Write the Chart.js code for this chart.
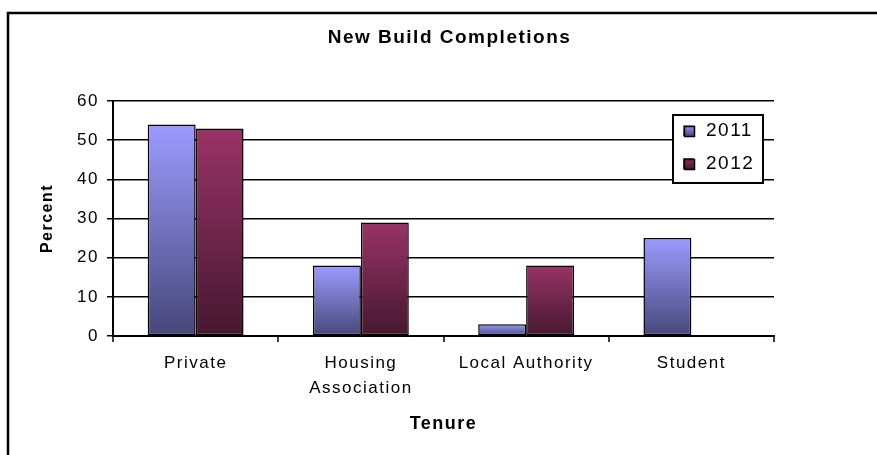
<!DOCTYPE html>
<html>
<head>
<meta charset="utf-8">
<script src="https://cdn.jsdelivr.net/npm/chart.js@4/dist/chart.umd.min.js"></script>
<style>
  html, body { margin: 0; padding: 0; background: #fff; }
  #wrap { width: 877px; height: 455px; position: relative; }
</style>
</head>
<body>
<div id="wrap"><canvas id="c" width="877" height="455"></canvas></div>
<script>
// ---- data ----
const chartTitle = 'New Build Completions';
const categories = ['Private', ['Housing', 'Association'], 'Local Authority', 'Student'];
const seriesNames = ['2011', '2012'];
const values2011 = [54, 18, 3, 25];
const values2012 = [53, 29, 18, 0];
const yTicks = [0, 10, 20, 30, 40, 50, 60];
const xTitle = 'Tenure';
const yTitle = 'Percent';

// ---- styling ----
const FONT = "'Liberation Sans', Arial, sans-serif";
const SPACING = '1.5px';
const colors2011 = ['#9b9bff', '#47477a'];
const colors2012 = ['#993366', '#461830'];

function barGradient(ctx, pair) {
  const chart = ctx.chart;
  const y = chart.scales && chart.scales.y;
  if (!y || ctx.type !== 'data' || ctx.raw == null) return pair[0];
  const y0 = y.getPixelForValue(0);
  const y1 = y.getPixelForValue(ctx.raw);
  if (!isFinite(y0) || !isFinite(y1) || Math.abs(y0 - y1) < 0.5) return pair[0];
  const g = chart.ctx.createLinearGradient(0, y1, 0, y0);
  g.addColorStop(0, pair[0]);
  g.addColorStop(1, pair[1]);
  return g;
}

const spacingPlugin = {
  id: 'spacing',
  beforeUpdate(c) { c.ctx.letterSpacing = SPACING; },
  beforeLayout(c) { c.ctx.letterSpacing = SPACING; },
  beforeDraw(c) { c.ctx.letterSpacing = SPACING; }
};

const framePlugin = {
  id: 'frame',
  afterDraw(c) {
    const ctx = c.ctx;
    ctx.save();
    ctx.strokeStyle = '#000';
    ctx.lineWidth = 2.5;
    ctx.strokeRect(8, 13, 1000, 600);
    ctx.restore();
  }
};

const boxLegend = {
  id: 'boxLegend',
  afterDraw(c) {
    const ctx = c.ctx;
    const bx = 673, by = 115, bw = 90, bh = 68;
    ctx.save();
    ctx.fillStyle = '#fff';
    ctx.fillRect(bx, by, bw, bh);
    ctx.strokeStyle = '#000';
    ctx.lineWidth = 2;
    ctx.strokeRect(bx, by, bw, bh);
    const pairs = [colors2011, colors2012];
    c.data.datasets.forEach((ds, i) => {
      const sy = 125 + i * 33;
      const g = ctx.createLinearGradient(0, sy, 0, sy + 11);
      g.addColorStop(0, pairs[i][0]);
      g.addColorStop(1, pairs[i][1]);
      ctx.fillStyle = g;
      ctx.fillRect(683, sy, 11, 11);
      ctx.lineWidth = 1.5;
      ctx.strokeStyle = '#000';
      ctx.strokeRect(684.5, sy + 1.5, 10, 10);
      ctx.fillStyle = '#000';
      ctx.font = '19px ' + FONT;
      ctx.letterSpacing = SPACING;
      ctx.textBaseline = 'middle';
      ctx.textAlign = 'left';
      ctx.fillText(ds.label, 706, sy + 6);
    });
    ctx.restore();
  }
};

new Chart(document.getElementById('c'), {
  type: 'bar',
  data: {
    labels: categories,
    datasets: [
      {
        label: seriesNames[0],
        data: values2011,
        backgroundColor: (ctx) => barGradient(ctx, colors2011),
        borderColor: '#000',
        borderWidth: 1.5,
        borderSkipped: false
      },
      {
        label: seriesNames[1],
        data: values2012,
        backgroundColor: (ctx) => barGradient(ctx, colors2012),
        borderColor: '#000',
        borderWidth: 1.5,
        borderSkipped: false
      }
    ]
  },
  options: {
    responsive: false,
    animation: false,
    devicePixelRatio: 1,
    layout: { padding: { left: 22, right: 0, top: 0, bottom: 0 } },
    datasets: { bar: { categoryPercentage: 0.58, barPercentage: 1.0 } },
    plugins: {
      legend: { display: false },
      tooltip: { enabled: false },
      title: {
        display: true,
        text: chartTitle,
        color: '#000',
        font: { family: FONT, size: 19, weight: 'bold', lineHeight: 1.2 },
        padding: { top: 26.1, bottom: 52.1 }
      }
    },
    scales: {
      x: {
        afterFit(s) { s.height = 119; },
        grid: {
          offset: true,
          drawOnChartArea: true,
          color: (ctx) => (ctx.index === categories.length ? '#000' : 'rgba(0,0,0,0)'),
          lineWidth: 2,
          tickColor: '#000',
          tickLength: 6,
          tickWidth: 1.5
        },
        border: { display: true, color: '#000', width: 2 },
        ticks: {
          color: '#000',
          padding: 8.5,
          maxRotation: 0,
          autoSkip: false,
          font: { family: FONT, size: 17, lineHeight: 1.47 }
        },
        title: {
          display: true,
          text: xTitle,
          color: '#000',
          font: { family: FONT, size: 18, weight: 'bold', lineHeight: 1.2 },
          padding: { top: 0, bottom: 20.2 }
        }
      },
      y: {
        min: 0,
        max: 60,
        afterFit(s) { s.width = 91; },
        afterBuildTicks(s) { s.ticks = yTicks.map(v => ({ value: v })); },
        grid: {
          color: '#000',
          lineWidth: 1.5,
          tickColor: '#000',
          tickLength: 6,
          tickWidth: 1.5
        },
        border: { display: true, color: '#000', width: 2 },
        ticks: {
          color: '#000',
          padding: 8,
          font: { family: FONT, size: 17 }
        },
        title: {
          display: true,
          text: yTitle,
          color: '#000',
          font: { family: FONT, size: 16, weight: 'bold', lineHeight: 1.2 },
          padding: { top: 15.9, bottom: 0 }
        }
      },
      yR: {
        type: 'linear',
        position: 'right',
        display: true,
        afterFit(s) { s.width = 103; },
        grid: { display: false, drawTicks: false },
        border: { display: false },
        ticks: { display: false }
      }
    }
  },
  plugins: [spacingPlugin, framePlugin, boxLegend]
});
</script>
</body>
</html>
